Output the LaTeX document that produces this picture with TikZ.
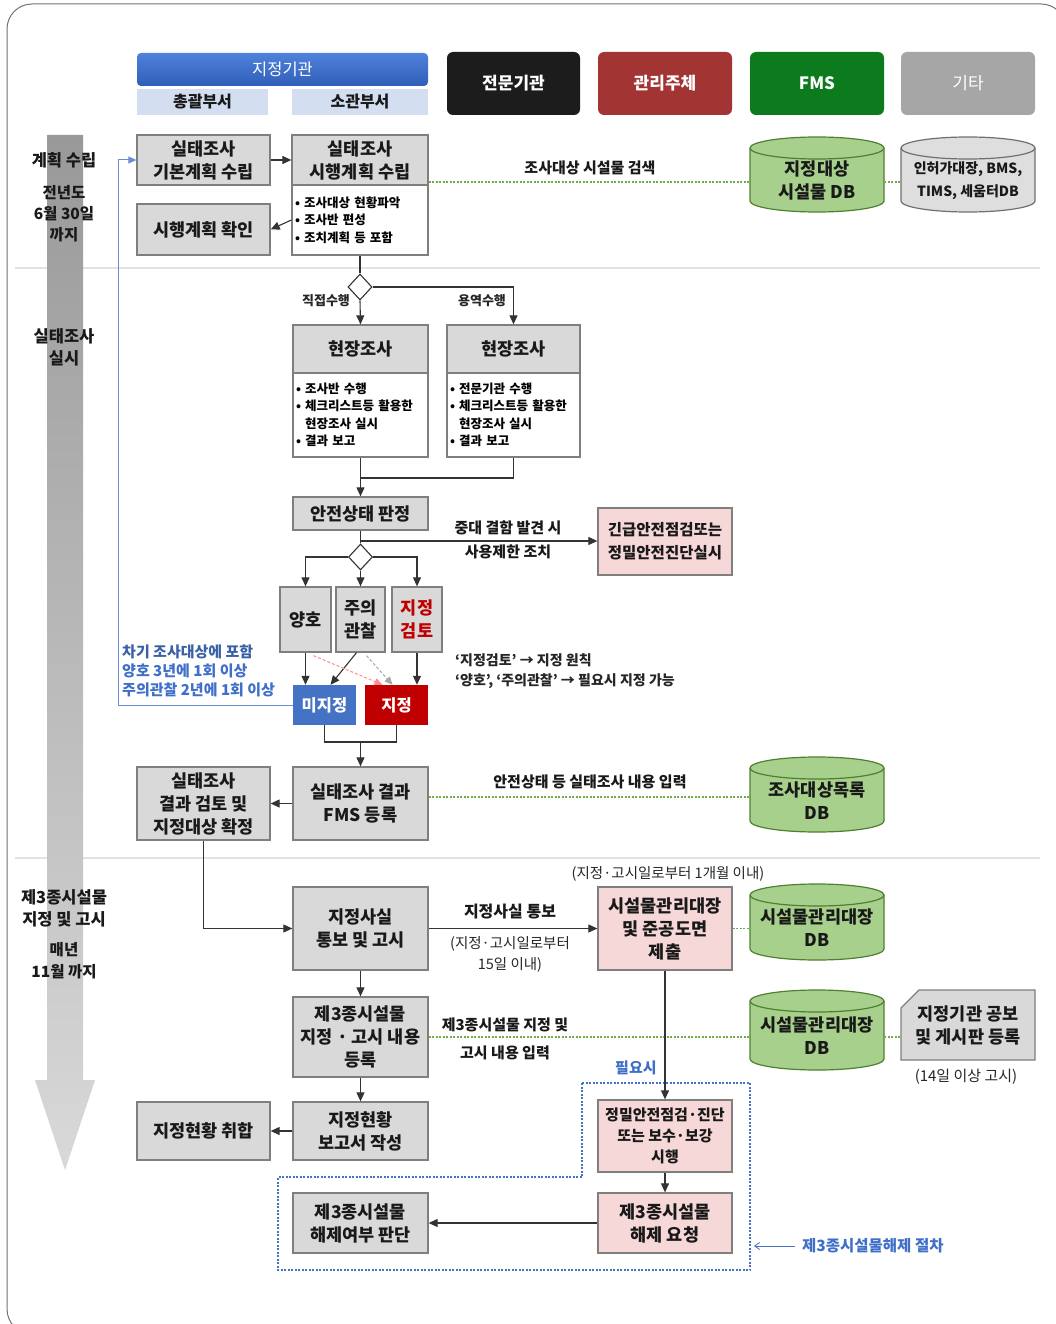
\documentclass[tikz,border=0pt]{standalone}
\usepackage{fontspec}
\setmainfont{Noto Sans CJK KR}
\usetikzlibrary{arrows.meta,shapes.geometric,calc}
\definecolor{hblueTop}{HTML}{4F82DC}
\definecolor{hblueBot}{HTML}{2F5EB8}
\definecolor{lblue}{HTML}{D3DFF1}
\definecolor{hblack}{HTML}{1C1C1C}
\definecolor{hred}{HTML}{A23434}
\definecolor{hgreen}{HTML}{0C7B1D}
\definecolor{hgray}{HTML}{A6A6A6}
\definecolor{boxgray}{HTML}{D9D9D9}
\definecolor{bordergray}{HTML}{7F7F7F}
\definecolor{pinkfill}{HTML}{F6D8D8}
\definecolor{cylgreen}{HTML}{A8D08D}
\definecolor{cylgreenD}{HTML}{4F7F30}
\definecolor{cylgray}{HTML}{DEDEDE}
\definecolor{cylgrayD}{HTML}{707070}
\definecolor{dotgreen}{HTML}{70AD47}
\definecolor{mblue}{HTML}{4472C4}
\definecolor{mred}{HTML}{C00000}
\definecolor{txtblue}{HTML}{3F6FC8}
\definecolor{sepgray}{HTML}{E2E2E2}
\newcommand\fsz[2]{\fontsize{#1}{#2}\selectfont}
\newcommand\dbcyl[8]{%
 \pgfmathsetmacro\dbcx{(#2+#4)/2}%
 \pgfmathsetmacro\dbrx{(#4-#2)/2}%
 \pgfmathsetmacro\dbcw{#4-#2}%
 \pgfmathsetmacro\dbch{#5-#3-22}%
 \pgfmathsetmacro\dbcy{(#3+#5)/2+6}%
 \pgfmathsetmacro\dbya{#3+11}%
 \pgfmathsetmacro\dbyb{#5-11}%
 \filldraw[fill=#6, draw=#7, line width=1.2pt] (#2,\dbya) -- (#2,\dbyb)
   arc[start angle=180,end angle=360,x radius=\dbrx pt,y radius=11pt]
   -- (#4,\dbya) arc[start angle=0,end angle=180,x radius=\dbrx pt,y radius=11pt] -- cycle;
 \draw[draw=#7, line width=1.2pt] (#2,\dbya)
   arc[start angle=180,end angle=360,x radius=\dbrx pt,y radius=11pt];
 \node[base, minimum width=\dbcw pt, minimum height=\dbch pt] (#1) at (\dbcx,\dbcy) {#8};%
}
\begin{document}
\begin{tikzpicture}[x=1pt,y=-1pt,
  base/.style={inner sep=1pt, align=center, font=\fsz{17.5}{23}\bfseries, text=black!90},
  gbox/.style={base, draw=bordergray, fill=boxgray, line width=1.3pt},
  pbox/.style={gbox, fill=pinkfill},
  wbox/.style={draw=bordergray, fill=white, line width=1.3pt, align=left, font=\fsz{12.5}{17.5}\bfseries, inner sep=3pt},
  hdr/.style={base, rounded corners=6pt, text=white, font=\fsz{17}{20}\bfseries},
  sub/.style={base, fill=lblue, font=\fsz{16}{18}\bfseries},
  lab/.style={inner sep=0pt, font=\fsz{15}{17}\bfseries, text=black!90},
  slab/.style={inner sep=0pt, font=\fsz{14.5}{16}, text=black!85},
  side/.style={inner sep=0pt, align=center, font=\fsz{16.5}{22}\bfseries, text=black!90},
  btxt/.style={inner sep=0pt, anchor=west, font=\fsz{15}{17}\bfseries, text=txtblue},
  arr/.style={-{Triangle[length=9pt,width=8pt]}, line width=1.1pt, draw=black!80},
  ln/.style={line width=1.1pt, draw=black!80},
  dotl/.style={draw=dotgreen, line width=1.6pt, dash pattern=on 2pt off 1.5pt},
  dia/.style={diamond, draw=black!80, fill=white, line width=1.1pt, minimum width=24pt, minimum height=26pt, inner sep=0pt}
]
\useasboundingbox (0,0) rectangle (1056,1324);
\fill[white] (0,0) rectangle (1056,1324);
% frame
\draw[black!55, line width=1pt, rounded corners=25pt] (7,4) rectangle (1066,1334);
% separators
\draw[sepgray, line width=2pt] (15,268) -- (1040,268);
\draw[sepgray, line width=2pt] (15,858) -- (1040,858);
% timeline arrow
\shade[top color=black!40, bottom color=black!15] (47,135) -- (83,135) -- (83,1080) -- (95,1080) -- (65,1170) -- (35,1080) -- (47,1080) -- cycle;
\node[side] (ph1) at (64,160) {계획 수립};
\node[side, font=\fsz{15.5}{21}\bfseries] (ph1d) at (64,214) {전년도\\6월 30일\\까지};
\node[side] (ph2) at (64,347) {실태조사\\실시};
\node[side] (ph3) at (64,908) {제3종시설물\\지정 및 고시};
\node[side, font=\fsz{15.5}{22}\bfseries] (ph3d) at (64,961) {매년\\11월 까지};

% header
\node[base, rounded corners=4pt, top color=hblueTop, bottom color=hblueBot, text=white, font=\fsz{16.5}{18}, minimum width=291pt, minimum height=33pt] (hA) at (282.5,69.5) {지정기관};
\node[sub, minimum width=131pt, minimum height=26pt] (hA1) at (202.5,102) {총괄부서};
\node[sub, minimum width=136pt, minimum height=26pt] (hA2) at (360,102) {소관부서};
\node[hdr, fill=hblack, minimum width=133pt, minimum height=63pt] (hB) at (513.5,83.5) {전문기관};
\node[hdr, fill=hred, minimum width=134pt, minimum height=63pt] (hC) at (665,83.5) {관리주체};
\node[hdr, fill=hgreen, minimum width=134pt, minimum height=63pt] (hD) at (817,83.5) {FMS};
\node[hdr, fill=hgray, minimum width=134pt, minimum height=63pt, font=\fsz{17}{20}] (hE) at (968,83.5) {기타};

% row 1
\node[gbox, minimum width=133pt, minimum height=50pt] (basic) at (203.5,160) {실태조사\\기본계획 수립};
\node[gbox, minimum width=136pt, minimum height=50pt] (exec) at (360,160) {실태조사\\시행계획 수립};
\node[wbox, text width=130pt, minimum height=70pt] (execb) at (360,220) {• 조사대상 현황파악\\• 조사반 편성\\• 조치계획 등 포함};
\node[gbox, minimum width=133pt, minimum height=51pt] (confirm) at (203.5,229.5) {시행계획 확인};
\dbcyl{db1}{750}{137}{884}{212}{cylgreen}{cylgreenD}{지정대상\\시설물 DB}
\dbcyl{db2}{901}{137}{1035}{212}{cylgray}{cylgrayD}{\fsz{14}{21}\bfseries 인허가대장, BMS,\\\fsz{14}{21}\bfseries TIMS, 세움터DB}
\draw[arr] (basic) -- (exec);
\draw[arr] (execb.west) -- (confirm.east);
\draw[dotl] (execb.north east |- 0,182) -- (db1.west |- 0,182);
\draw[dotl] (db1.east |- 0,182) -- (db2.west |- 0,182);
\node[lab] (l1) at (590,168) {조사대상 시설물 검색};

% field survey
\node[dia] (d1) at (360,287) {};
\draw[ln] (execb.south) -- (d1.north);
\node[gbox, minimum width=135pt, minimum height=48pt] (fs1) at (360.5,349) {현장조사};
\node[wbox, text width=129pt, minimum height=84pt] (fs1b) at (360.5,415) {• 조사반 수행\\• 체크리스트등 활용한\\\hspace*{9pt}현장조사 실시\\• 결과 보고};
\node[gbox, minimum width=133pt, minimum height=48pt] (fs2) at (513.5,349) {현장조사};
\node[wbox, text width=127pt, minimum height=84pt] (fs2b) at (513.5,415) {• 전문기관 수행\\• 체크리스트등 활용한\\\hspace*{9pt}현장조사 실시\\• 결과 보고};
\draw[arr] (d1.south) -- (fs1.north);
\draw[arr] (d1.east) -| (fs2.north);
\node[slab, font=\fsz{13}{15}\bfseries] (l2) at (326,301) {직접수행};
\node[slab, font=\fsz{13}{15}\bfseries] (l3) at (482,301) {용역수행};

\node[gbox, minimum width=135pt, minimum height=33pt] (judge) at (360.5,513.5) {안전상태 판정};
\coordinate (m1) at (360.5,478);
\draw[ln] (fs1b.south) -- (m1);
\draw[ln] (fs2b.south) |- (m1);
\draw[arr] (m1) -- (judge.north);

\node[pbox, minimum width=134pt, minimum height=67pt, font=\fsz{15.5}{23}\bfseries] (emerg) at (665,541.5) {긴급안전점검또는\\정밀안전진단실시};
\node[dia] (d2) at (360.5,557) {};
\coordinate (j1) at (360.5,541);
\draw[ln] (judge.south) -- (d2.north);
\draw[arr] (j1) -- (emerg.west |- j1);
\node[lab] (l4) at (508,528) {중대 결함 발견 시};
\node[lab] (l5) at (508,552) {사용제한 조치};

\node[gbox, minimum width=51pt, minimum height=65pt] (good) at (305.5,619.5) {양호};
\node[gbox, minimum width=49pt, minimum height=65pt] (caut) at (360.5,619.5) {주의\\관찰};
\node[gbox, minimum width=50pt, minimum height=65pt, text=mred] (rev) at (417,619.5) {지정\\검토};
\draw[arr] (d2.west) -| (good.north);
\draw[arr] (d2.south) -- (caut.north);
\draw[arr] (d2.east) -| (rev.north);

\node[base, fill=mblue, text=white, minimum width=63pt, minimum height=40pt, font=\fsz{16.5}{20}\bfseries] (und) at (324.5,705) {미지정};
\node[base, fill=mred, text=white, minimum width=63pt, minimum height=40pt, font=\fsz{16.5}{20}\bfseries] (des) at (396.5,705) {지정};
\draw[arr] (good.south) -- (good.south |- und.north);
\draw[arr] ($(caut.south)+(-4,0)$) -- ($(und.north)+(6,0)$);
\draw[arr] (rev.south) -- (rev.south |- des.north);
\draw[-{Triangle[length=8pt,width=7pt]}, draw=red!45, line width=1pt, dash pattern=on 3pt off 2pt] ($(good.south)+(8,3)$) -- ($(des.north)+(-14,0)$);
\draw[-{Triangle[length=8pt,width=7pt]}, draw=black!35, line width=1pt, dash pattern=on 3pt off 2pt] ($(caut.south)+(6,3)$) -- ($(des.north)+(-4,0)$);
\node[slab, anchor=west, font=\fsz{14}{16}\bfseries] (l6) at (455,660) {‘지정검토’ → 지정 원칙};
\node[slab, anchor=west, font=\fsz{14}{16}\bfseries] (l7) at (455,681) {‘양호’, ‘주의관찰’ → 필요시 지정 가능};

\node[btxt, text=mblue!85!black] (b1) at (122,652) {차기 조사대상에 포함};
\node[btxt] (b2) at (122,671) {양호 3년에 1회 이상};
\node[btxt] (b3) at (122,690) {주의관찰 2년에 1회 이상};
\coordinate (bl1) at (118,705);
\coordinate (bl2) at (118,160);
\draw[draw=mblue!80, line width=1pt, -{Triangle[length=8pt,width=7pt]}] (und.west) -- (bl1) -- (bl2) -- (basic.west);

% results
\node[gbox, minimum width=135pt, minimum height=73pt] (reg) at (360.5,803.5) {실태조사 결과\\FMS 등록};
\node[gbox, minimum width=133pt, minimum height=73pt] (fin) at (203.5,803.5) {실태조사\\결과 검토 및\\지정대상 확정};
\coordinate (m2) at (360.5,742);
\draw[ln] (und.south) |- (m2);
\draw[ln] (des.south) |- (m2);
\draw[arr] (m2) -- (reg.north);
\draw[arr] (reg.west) -- (fin.east);
\dbcyl{db3}{750}{757}{884}{832}{cylgreen}{cylgreenD}{조사대상목록\\DB}
\draw[dotl] (reg.east |- 0,797) -- (db3.west |- 0,797);
\node[lab] (l8) at (590,782) {안전상태 등 실태조사 내용 입력};

% designation
\node[gbox, minimum width=135pt, minimum height=83pt] (notify) at (360.5,928.5) {지정사실\\통보 및 고시};
\draw[arr] (fin.south) |- (notify.west);
\node[pbox, minimum width=134pt, minimum height=83pt] (submit) at (665,928.5) {시설물관리대장\\및 준공도면\\제출};
\draw[arr] (notify.east) -- (submit.west);
\node[lab, font=\fsz{16}{18}\bfseries] (l9) at (510,912) {지정사실 통보};
\node[slab, align=center, font=\fsz{14.5}{21}] (l10) at (510,954) {(지정·고시일로부터\\15일 이내)};
\node[slab] (l11) at (668,874) {(지정·고시일로부터 1개월 이내)};
\dbcyl{db4}{750}{884}{884}{960}{cylgreen}{cylgreenD}{시설물관리대장\\DB}
\draw[dotl] (submit.east) -- (submit.east -| db4.west);

\node[gbox, minimum width=135pt, minimum height=80pt] (enroll) at (360.5,1037) {제3종시설물\\지정 · 고시 내용\\등록};
\draw[arr] (notify.south) -- (enroll.north);
\dbcyl{db5}{750}{990}{884}{1070}{cylgreen}{cylgreenD}{시설물관리대장\\DB}
\draw[dotl] (enroll.east) -- (enroll.east -| db5.west);
\node[lab] (l12) at (505,1025) {제3종시설물 지정 및};
\node[lab] (l13) at (505,1053) {고시 내용 입력};
\filldraw[fill=boxgray, draw=bordergray, line width=1.3pt] (919,990) -- (1035,990) -- (1035,1060) -- (901,1060) -- (901,1008) -- cycle;
\node[base, minimum width=134pt, minimum height=70pt] (notice) at (968,1025) {지정기관 공보\\및 게시판 등록};
\draw[dotl] (db5.east |- 0,1037) -- (notice.west |- 0,1037);
\node[slab, font=\fsz{15}{16}] (l14) at (966,1077) {(14일 이상 고시)};

\node[gbox, minimum width=135pt, minimum height=58pt] (report) at (360.5,1131) {지정현황\\보고서 작성};
\node[gbox, minimum width=133pt, minimum height=58pt] (collect) at (203.5,1131) {지정현황 취합};
\draw[arr] (enroll.south) -- (report.north);
\draw[arr] (report.west) -- (collect.east);

% release procedure
\draw[draw=mblue, line width=1.2pt, dash pattern=on 2pt off 1.5pt] (582,1083) -- (750,1083) -- (750,1270) -- (278,1270) -- (278,1177) -- (582,1177) -- cycle;
\node[pbox, minimum width=134pt, minimum height=72pt, font=\fsz{15}{21}\bfseries] (precise) at (665,1136) {정밀안전점검·진단\\또는 보수·보강\\시행};
\node[pbox, minimum width=134pt, minimum height=60pt] (release) at (665,1223) {제3종시설물\\해제 요청};
\node[gbox, minimum width=135pt, minimum height=60pt] (judge2) at (360.5,1223) {제3종시설물\\해제여부 판단};
\draw[arr] (submit.south) -- (precise.north);
\draw[arr] (precise.south) -- (release.north);
\draw[arr] (release.west) -- (judge2.east);
\node[btxt] (l15) at (615,1068) {필요시};
\node[btxt, font=\fsz{15.5}{17}\bfseries] (l16) at (802,1246) {제3종시설물해제 절차};
\coordinate (ra) at (795,1246);
\coordinate (rb) at (754,1246);
\draw[draw=mblue, line width=0.8pt, -{Straight Barb[length=5pt,width=7pt]}] (ra) -- (rb);
\end{tikzpicture}
\end{document}
